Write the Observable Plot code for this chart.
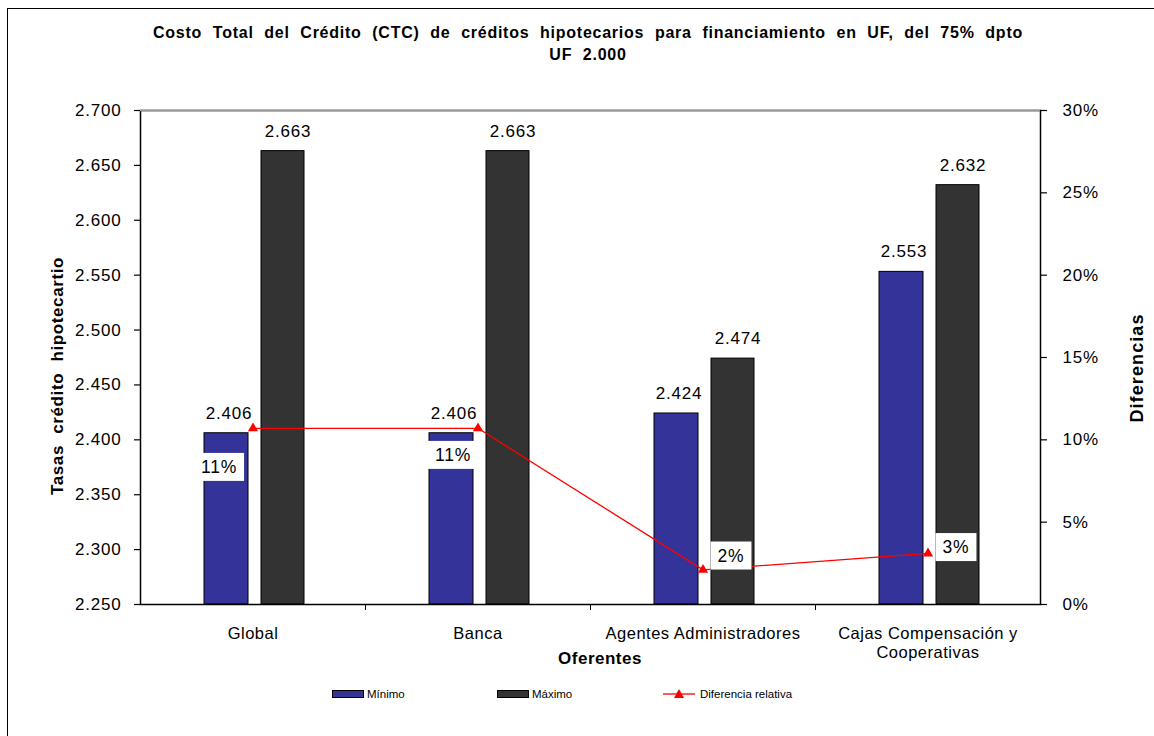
<!DOCTYPE html>
<html><head><meta charset="utf-8">
<script src="https://cdn.jsdelivr.net/npm/d3@7"></script>
<script src="https://cdn.jsdelivr.net/npm/@observablehq/plot@0.6"></script>
<style>
body{margin:0;background:#fff;font-family:"Liberation Sans",Arial,sans-serif;color:#000;}
#wrap{position:relative;width:1154px;height:736px;overflow:hidden;}
#border{position:absolute;left:7px;top:8px;width:1170px;height:760px;border:1px solid #000;box-sizing:border-box;}
#chart{position:absolute;left:0;top:0;}
#chart svg text{letter-spacing:0.8px;}
#chart svg g[aria-label="x-axis tick label"] text{letter-spacing:0.5px;}
#title{position:absolute;left:0;width:1176px;top:22px;text-align:center;font-weight:bold;font-size:16px;line-height:22px;word-spacing:5.5px;letter-spacing:0.75px;}
.atitle{position:absolute;font-weight:bold;font-size:17px;white-space:nowrap;}
#ytitle{left:58px;top:376px;transform:translate(-50%,-50%) rotate(-90deg);letter-spacing:0.6px;word-spacing:6px;}
#y2title{left:1137px;top:368px;transform:translate(-50%,-50%) rotate(-90deg);font-size:18px;letter-spacing:1.1px;}
#xtitle{left:600px;top:659px;transform:translate(-50%,-50%);letter-spacing:0.5px;}
.leg{position:absolute;top:686px;height:16px;font-size:11.5px;line-height:16px;display:flex;align-items:center;}
.sw{display:inline-block;width:30px;height:6px;border:1px solid #000;margin-right:3px;}
</style></head>
<body>
<div id="wrap">
  <div id="border"></div>
  <div id="chart"></div>
  <div id="title">Costo Total del Crédito (CTC) de créditos hipotecarios para financiamiento en UF, del 75% dpto<br>UF 2.000</div>
  <div class="atitle" id="ytitle">Tasas crédito hipotecartio</div>
  <div class="atitle" id="y2title">Diferencias</div>
  <div class="atitle" id="xtitle">Oferentes</div>
  <div class="leg" style="left:332px"><span class="sw" style="background:#333399"></span>Mínimo</div>
  <div class="leg" style="left:497px"><span class="sw" style="background:#333333"></span>Máximo</div>
  <div class="leg" style="left:663px"><svg width="34" height="12" style="margin-right:3px"><line x1="0" y1="6" x2="32" y2="6" stroke="#ff0000" stroke-width="1.3"/><path d="M16,1 L21,10 L11,10 Z" fill="#ff0000"/></svg>Diferencia relativa</div>
</div>
<script>
// ---- data ----
const categories = ["Global", "Banca", "Agentes Administradores", "Cajas Compensación y Cooperativas"];
const tickLabels = ["Global", "Banca", "Agentes Administradores", "Cajas Compensación y\nCooperativas"];
const minimo = [2406, 2406, 2424, 2553];
const maximo = [2663, 2663, 2474, 2632];
const diferencia = [0.107, 0.107, 0.021, 0.031];
const diferenciaLabels = ["11%", "11%", "2%", "3%"];
const leftTicks = [2250, 2300, 2350, 2400, 2450, 2500, 2550, 2600, 2650, 2700];
const rightTicks = [0, 0.05, 0.10, 0.15, 0.20, 0.25, 0.30];

// ---- styles ----
const diffLabelOffsets = [[-34, 39], [-25, 27], [28, -14], [28, -6]];

const yMin = leftTicks[0], yMax = leftTicks[leftTicks.length - 1];
const pMax = rightTicks[rightTicks.length - 1];
const toY = p => yMin + p * (yMax - yMin) / pMax;
const fromY = v => (v - yMin) / (yMax - yMin) * pMax;

const rows = categories.map((c, i) => ({cat: c, min: minimo[i], max: maximo[i], dif: diferencia[i], difLabel: diferenciaLabels[i], i}));
const es = d3.formatLocale({decimal: ",", thousands: ".", grouping: [3], currency: ["$", ""]});
const fmt = es.format(",.0f");

const chart = Plot.plot({
  width: 1154, height: 736,
  marginLeft: 140, marginRight: 114, marginTop: 110, marginBottom: 132,
  style: {fontFamily: "'Liberation Sans', Arial, sans-serif", fontSize: "17px", color: "#000", background: "transparent", overflow: "visible"},
  x: {domain: categories, padding: 0, axis: null, label: null},
  y: {domain: [yMin, yMax], axis: null, label: null},
  marks: [
    Plot.barY(rows, {x: "cat", y1: yMin, y2: "min", fill: "#333399", stroke: "#000", strokeWidth: 1, insetLeft: 64, insetRight: 117}),
    Plot.barY(rows, {x: "cat", y1: yMin, y2: "max", fill: "#333333", stroke: "#000", strokeWidth: 1, insetLeft: 121, insetRight: 61}),
    Plot.frame({stroke: "#000", strokeWidth: 1.5}),
    Plot.ruleY([yMax], {stroke: "#999", strokeWidth: 1.5}),
    Plot.axisY({ticks: leftTicks, tickFormat: fmt, tickSize: 6, tickPadding: 13, fontSize: 17, label: null, strokeWidth: 1.2}),
    Plot.axisY({anchor: "right", ticks: rightTicks.map(toY), tickFormat: v => Math.round(fromY(v) * 100) + "%", tickSize: 6, tickPadding: 16, fontSize: 17, label: null, strokeWidth: 1.2}),
    Plot.axisX({tickSize: 0, tickPadding: 21, fontSize: 16.5, lineHeight: 1.15, tickFormat: d => tickLabels[categories.indexOf(d)], label: null}),
    Plot.ruleX(categories.slice(1), {x: d => d, dx: -112.5, y1: yMin, y2: yMin - 6 * (yMax - yMin) / 494, stroke: "#000"}),
    Plot.text(rows, {x: "cat", y: "min", text: d => fmt(d.min), dx: -24, dy: -20, fontSize: 17}),
    Plot.text(rows, {x: "cat", y: "max", text: d => fmt(d.max), dx: 35, dy: -20, fontSize: 17}),
    Plot.line(rows, {x: "cat", y: d => toY(d.dif), stroke: "#ff0000", strokeWidth: 1.3}),
    Plot.dot(rows, {x: "cat", y: d => toY(d.dif), symbol: "triangle", fill: "#ff0000", r: 3.8}),
    ...diffLabelOffsets.map(([dx, dy], k) =>
      Plot.text(rows.filter(d => d.i === k), {x: "cat", y: d => toY(d.dif), text: "difLabel", dx, dy, fontSize: 17.5, className: "diflab"}))
  ]
});
document.getElementById("chart").appendChild(chart);

// white boxes behind the difference labels
chart.querySelectorAll(".diflab text").forEach(t => {
  const b = t.getBBox();
  const ctm = t.getAttribute("transform");
  const r = document.createElementNS("http://www.w3.org/2000/svg", "rect");
  r.setAttribute("x", b.x - 7); r.setAttribute("y", b.y - 4);
  r.setAttribute("width", b.width + 14); r.setAttribute("height", b.height + 8);
  r.setAttribute("fill", "#fff");
  if (ctm) r.setAttribute("transform", ctm);
  t.parentNode.insertBefore(r, t);
});
</script>
</body></html>
